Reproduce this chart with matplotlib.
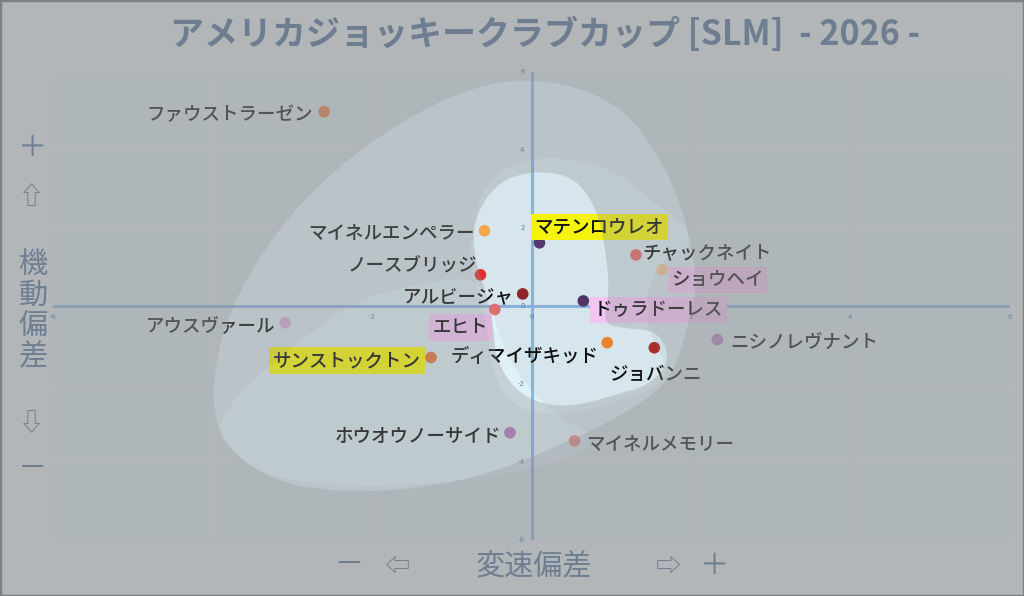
import matplotlib
matplotlib.use("Agg")
import matplotlib.pyplot as plt
from matplotlib.path import Path
from matplotlib.patches import PathPatch, Rectangle

plt.rcParams['font.family'] = ['Noto Sans CJK JP', 'DejaVu Sans']

# ---- data ----
horses = ["ファウストラーゼン", "マイネルエンペラー", "マテンロウレオ", "ノースブリッジ",
          "アルビージャ", "ドゥラドーレス", "エヒト", "アウスヴァール", "サンストックトン",
          "ディマイザキッド", "ジョバンニ", "チャックネイト", "ショウヘイ",
          "ニシノレヴナント", "ホウオウノーサイド", "マイネルメモリー"]
speed_dev = [-2.60, -0.59, 0.10, -0.64, -0.11, 0.65, -0.46, -3.09, -1.26,
             0.95, 1.54, 1.31, 1.64, 2.33, -0.27, 0.54]
mobility_dev = [4.98, 1.93, 1.62, 0.80, 0.31, 0.13, -0.09, -0.43, -1.32,
                -0.94, -1.07, 1.31, 0.93, -0.86, -3.25, -3.46]
dot_colors = ["#f07838", "#ffa848", "#502d6e", "#e52828", "#8c1919", "#4b2864",
              "#ea6c6c", "#d8b0d8", "#ec7030", "#f58220", "#aa2222", "#ee6464",
              "#ffcc98", "#b080c8", "#b079c0", "#f08888"]
highlights = {"マテンロウレオ": "#ffff00", "サンストックトン": "#ffff00",
              "エヒト": "#ffccff", "ショウヘイ": "#ffccff", "ドゥラドーレス": "#ffccff"}

xtick_vals = [-6, -2, 0, 2, 4, 6]
ytick_vals = [6, 4, 2, 0, -2, -4, -6]

# zone outlines (control points, data units)
outer_x = [-0.09, 0.60, 1.17, 1.54, 1.83, 2.02, 2.07, 1.98, 1.88, 1.71, 1.11, 0.35,
           -0.52, -1.40, -2.40, -3.28, -3.88, -4.01, -3.91, -3.59, -3.03, -2.28, -1.40, -0.71]
outer_y = [5.83, 5.62, 5.01, 4.03, 2.88, 1.47, 0.44, -0.33, -1.09, -1.99, -2.84, -3.58,
           -4.30, -4.68, -4.79, -4.48, -3.53, -2.38, -0.84, 0.70, 2.37, 3.83, 5.01, 5.62]
lobe_x = [-3.98, -3.76, -3.03, -2.19, -1.28, -0.77, -0.52, -0.40, -0.15, 0.35, 0.85, 0.48,
          -0.40, -1.28, -2.40, -3.34]
lobe_y = [-3.40, -2.38, -1.09, 0.19, 0.62, 0.75, 0.19, -0.84, -1.86, -2.89, -3.40, -3.92,
          -4.34, -4.58, -4.62, -4.38]
mid_x = [-0.74, -0.60, -0.34, 0.10, 0.73, 1.17, 1.54, 1.96, 1.98, 1.67, 1.48, 1.42,
         1.54, 1.73, 1.51, 0.92, 0.29, -0.21, -0.50, -0.55, -0.65, -0.78]
mid_y = [2.11, 3.01, 3.57, 3.83, 3.70, 3.32, 2.62, 2.03, 1.47, 1.26, 0.57, -0.20,
         -0.97, -1.66, -2.17, -2.56, -2.81, -2.63, -1.74, -0.58, 0.32, 1.08]
inner_x = [0.07, 0.54, 0.82, 0.93, 0.98, 0.89, 1.17, 1.58, 1.75, 1.50, 1.04, 0.60,
           0.17, -0.21, -0.45, -0.47, -0.56, -0.70, -0.74, -0.59, -0.34]
inner_y = [3.47, 3.32, 2.49, 1.47, 0.32, -0.45, -0.58, -0.63, -1.35, -2.02, -2.28, -2.55,
           -2.55, -2.17, -1.35, -0.58, 0.32, 1.08, 1.98, 2.75, 3.26]

# label placement: (dx px, dy px, ha)
label_pos = {
    "ファウストラーゼン": (-11, -3, "right"), "マイネルエンペラー": (-10, -3, "right"),
    "ノースブリッジ": (-3, 9, "right"), "アルビージャ": (-9, -3, "right"),
    "エヒト": (-7, -18, "right"), "アウスヴァール": (-10, -3, "right"),
    "サンストックトン": (-10, -3, "right"), "ディマイザキッド": (-9, -14, "right"),
    "マテンロウレオ": (-5, 16, "left"), "チャックネイト": (6, 2, "left"),
    "ショウヘイ": (9, -10, "left"), "ドゥラドーレス": (10, -9, "left"),
    "ジョバンニ": (1, -27, "center"), "ニシノレヴナント": (13, -3, "left"),
    "ホウオウノーサイド": (-9, -4, "right"), "マイネルメモリー": (12, -3, "left"),
}

DPI = 100
PX = 72.0 / DPI
BG = "#b2b6b9"
SHADE = "#909092"
DECO = "#6f7e91"


def hole_path(xs, ys):
    # rectangle with a smooth (quadratic B-spline) hole
    area = sum(xs[i] * ys[(i + 1) % len(xs)] - xs[(i + 1) % len(xs)] * ys[i]
               for i in range(len(xs)))
    if area > 0:
        xs, ys = xs[::-1], ys[::-1]
    n = len(xs)
    mx = [(xs[i] + xs[(i + 1) % n]) / 2 for i in range(n)]
    my = [(ys[i] + ys[(i + 1) % n]) / 2 for i in range(n)]
    verts = [(-50, -50), (50, -50), (50, 50), (-50, 50), (-50, -50)]
    codes = [Path.MOVETO, Path.LINETO, Path.LINETO, Path.LINETO, Path.CLOSEPOLY]
    verts.append((mx[-1], my[-1]))
    codes.append(Path.MOVETO)
    for i in range(n):
        verts += [(xs[i], ys[i]), (mx[i], my[i])]
        codes += [Path.CURVE3, Path.CURVE3]
    verts.append((mx[-1], my[-1]))
    codes.append(Path.CLOSEPOLY)
    return Path(verts, codes)


fig = plt.figure(figsize=(1024 / DPI, 596 / DPI), dpi=DPI, facecolor=BG)
ax = fig.add_axes([53 / 1024, 56 / 596, 957 / 1024, 468 / 596])
ax.set_xlim(-6, 6)
ax.set_ylim(-6, 6)
ax.set_facecolor("#dff0f7")
for s in ax.spines.values():
    s.set_visible(False)
ax.set_xticks(range(-6, 7, 2))
ax.set_yticks(range(-6, 7, 2))
ax.tick_params(length=0, labelbottom=False, labelleft=False)
ax.grid(True, color="white", alpha=0.18, lw=0.8)
ax.set_axisbelow(True)

ax.axhline(0, color="#8cb4e6", lw=2.2, zorder=2)
ax.axvline(0, color="#8cb4e6", lw=2.2, zorder=2)

for v in xtick_vals:
    ax.annotate(str(v), (v, 0), xytext=(0, -11 * PX), textcoords="offset points",
                ha="center", va="center", fontsize=5.5, color="#5a7fb0",
                zorder=6, annotation_clip=False)
for v in ytick_vals:
    ax.annotate(str(v), (0, v), xytext=(-7 * PX, 0), textcoords="offset points",
                ha="right", va="center", fontsize=5.5, color="#5a7fb0",
                zorder=6, annotation_clip=False)

ax.scatter(speed_dev, mobility_dev, s=70, c=dot_colors, edgecolors="none", zorder=4)

for name, x, y in zip(horses, speed_dev, mobility_dev):
    dx, dy, ha = label_pos[name]
    box = None
    if name in highlights:
        box = dict(boxstyle="square,pad=0.2", fc=highlights[name], ec="none")
    ax.annotate(name, (x, y), xytext=(dx * PX, dy * PX), textcoords="offset points",
                ha=ha, va="center", fontsize=13.3, fontweight="medium", color="black",
                bbox=box, zorder=5)

# grey veils outside each zone (drawn over everything in the plot)
for xs, ys, a in [(outer_x, outer_y, 0.25), (lobe_x, lobe_y, 0.10),
                  (mid_x, mid_y, 0.10), (inner_x, inner_y, 0.32)]:
    ax.add_patch(PathPatch(hole_path(xs, ys), fc=SHADE, ec="none", alpha=a, zorder=10))

# title and axis captions
fig.text(545 / 1024, 1 - 34 / 596, "アメリカジョッキークラブカップ [SLM]  - 2026 -",
         ha="center", va="center", fontsize=24.5, fontweight="bold", color="#6e7d8f")

fy = lambda py: 1 - py / 596
fig.text(33 / 1024, fy(148), "＋", ha="center", va="center", fontsize=21, color=DECO)
fig.text(31 / 1024, fy(197), "⇧", ha="center", va="center", fontsize=18, color=DECO)
fig.text(33 / 1024, fy(311), "機\n動\n偏\n差", ha="center", va="center", fontsize=21,
         linespacing=1.03, color=DECO)
fig.text(31 / 1024, fy(424), "⇩", ha="center", va="center", fontsize=18, color=DECO)
fig.text(33 / 1024, fy(469), "－", ha="center", va="center", fontsize=21, color=DECO)

fig.text(350 / 1024, fy(565), "－", ha="center", va="center", fontsize=21, color=DECO)
fig.text(397 / 1024, fy(567), "⇦", ha="center", va="center", fontsize=18, color=DECO)
fig.text(534 / 1024, fy(567), "変速偏差", ha="center", va="center", fontsize=21, color=DECO)
fig.text(668 / 1024, fy(567), "⇨", ha="center", va="center", fontsize=18, color=DECO)
fig.text(715 / 1024, fy(566), "＋", ha="center", va="center", fontsize=21, color=DECO)

fig.patches.append(Rectangle((0, 0), 1, 1, transform=fig.transFigure, fill=False,
                             ec="#808080", lw=2.5))

fig.savefig("out.png", dpi=DPI, facecolor=BG)
